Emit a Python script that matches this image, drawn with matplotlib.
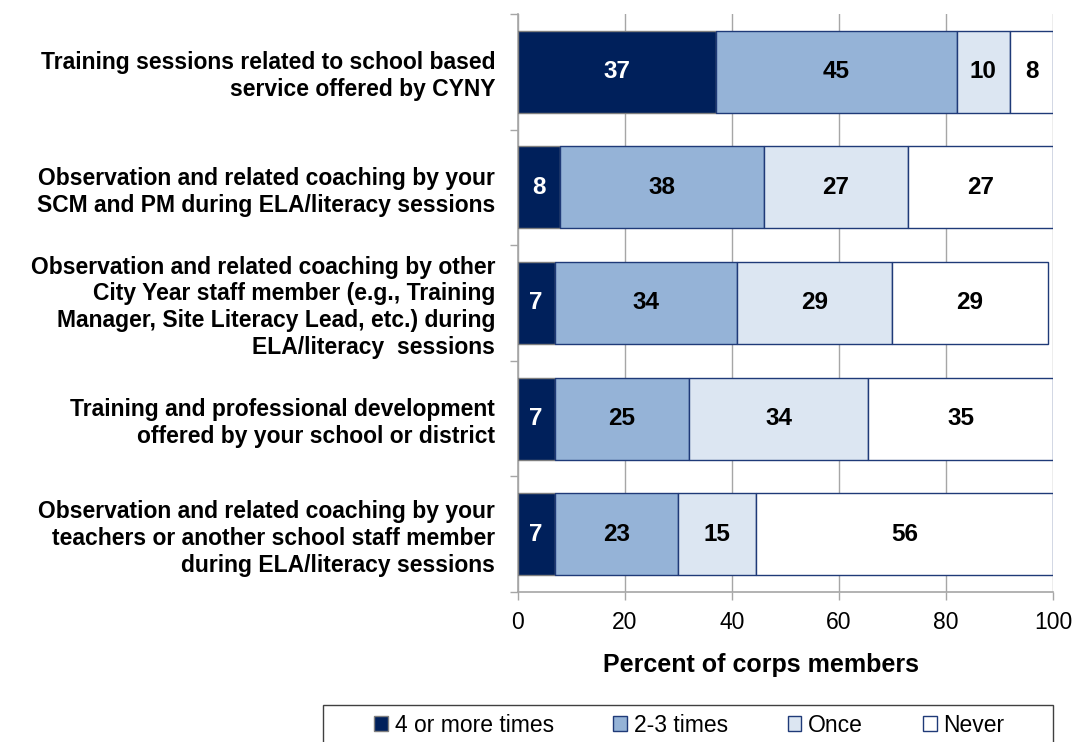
import numpy as np
import matplotlib.pyplot as plt
from matplotlib.patches import Rectangle
from matplotlib.ticker import MultipleLocator

plt.rcParams['font.family'] = ['Liberation Sans', 'DejaVu Sans']

categories = [
    'Training sessions related to school based\nservice offered by CYNY',
    'Observation and related coaching by your\nSCM and PM during ELA/literacy sessions',
    'Observation and related coaching by other\nCity Year staff member (e.g., Training\nManager, Site Literacy Lead, etc.) during\nELA/literacy  sessions',
    'Training and professional development\noffered by your school or district',
    'Observation and related coaching by your\nteachers or another school staff member\nduring ELA/literacy sessions',
]
series_names = ['4 or more times', '2-3 times', 'Once', 'Never']
four_plus = [37, 8, 7, 7, 7]
two_three = [45, 38, 34, 25, 23]
once = [10, 27, 29, 33.5, 14.5]
never = [8, 27, 29, 34.5, 55.5]

colors = ['#00205B', '#95B3D7', '#DCE6F2', '#FFFFFF']
text_colors = ['white', 'black', 'black', 'black']

fig = plt.figure(figsize=(10.75, 7.42), dpi=100)
ax = fig.add_axes([0.4814, 0.2022, 0.9795 - 0.4814, 0.9811 - 0.2022])

y = np.arange(len(categories))
left = np.zeros(len(categories))
handles = []
for vals, name, c, tc in zip([four_plus, two_three, once, never], series_names, colors, text_colors):
    vals = np.array(vals, dtype=float)
    ec = '#7F7F7F' if c == '#00205B' else '#1F3A78'
    bars = ax.barh(y, vals, left=left, height=0.71, color=c, edgecolor=ec,
                   linewidth=1.0, label=name, zorder=3)
    handles.append(bars)
    for yi, l, v in zip(y, left, vals):
        ax.text(l + v / 2, yi, str(int(v + 0.5)), ha='center', va='center',
                color=tc, fontsize=17.5, fontweight='bold', zorder=4)
    left += vals

ax.set_xlim(0, 100)
ax.set_ylim(len(categories) - 0.5, -0.5)
ax.xaxis.set_major_locator(MultipleLocator(20))
ax.grid(axis='x', color='#A6A6A6', linewidth=1.0, zorder=0)
ax.set_yticks(y)
ax.set_yticklabels(categories, fontsize=16.5, fontweight='bold', linespacing=1.22)
ax.set_yticks(np.arange(len(categories) + 1) - 0.5, minor=True)
ax.tick_params(axis='y', which='major', length=0, pad=16)
ax.tick_params(axis='y', which='minor', length=6, color='#A6A6A6', width=1)
ax.tick_params(axis='x', length=6, color='#A6A6A6', width=1, labelsize=16.5, pad=8)
for s in ['top', 'right']:
    ax.spines[s].set_visible(False)
for s in ['left', 'bottom']:
    ax.spines[s].set_color('#A6A6A6')
    ax.spines[s].set_linewidth(1.2)

ax.set_xlabel('Percent of corps members', fontsize=18, fontweight='bold')
ax.xaxis.set_label_coords((761 - 517.5) / 535.5, -0.105)

# legend entries without frame, and a separate box drawn around them
leg = fig.legend(handles=handles, labels=series_names, ncol=4, loc='center left',
                 bbox_to_anchor=(374 / 1075, 1 - 725 / 742), bbox_transform=fig.transFigure,
                 frameon=False, fontsize=16.5, handlelength=0.6, handleheight=0.6,
                 handletextpad=0.3, columnspacing=2.6, borderpad=0, borderaxespad=0)
fig.patches.append(Rectangle((323 / 1075, -0.05), 730 / 1075, 0.05 + 1 - 705 / 742,
                             transform=fig.transFigure, fill=False,
                             edgecolor='#404040', linewidth=1.0))

fig.savefig('out.png', dpi=100)
